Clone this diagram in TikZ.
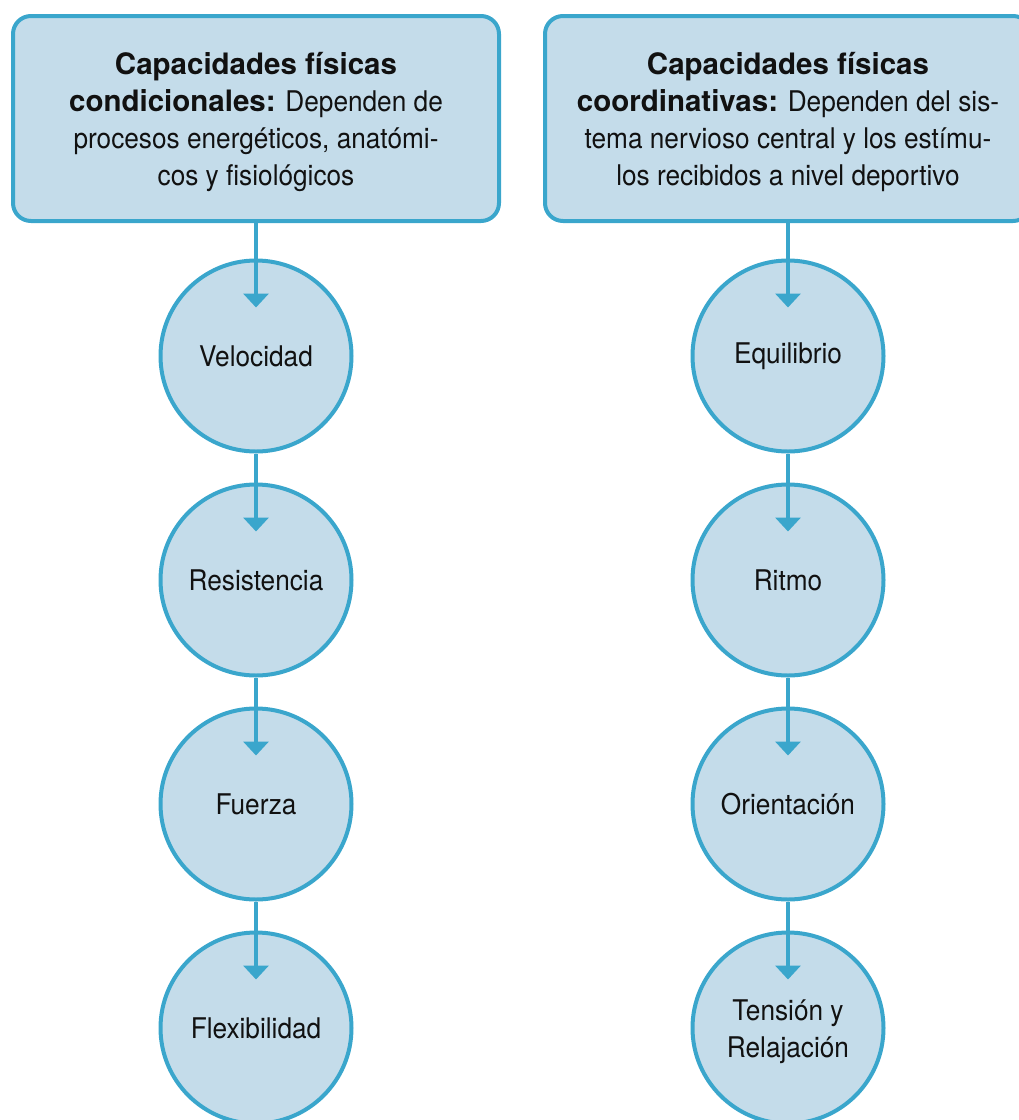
\documentclass[tikz,border=0pt]{standalone}
\usepackage{fontspec}
\setmainfont{TeX Gyre Heros}[FakeStretch=0.92]
\newfontfamily\boldfont{TeX Gyre Heros}
\usetikzlibrary{arrows.meta}
\definecolor{bfill}{RGB}{196,220,234}
\definecolor{bline}{RGB}{58,166,204}
\definecolor{ink}{RGB}{17,17,17}
\newcommand\hb[1]{{\boldfont\bfseries\fontsize{29.5}{37}\selectfont #1}}
\tikzset{
  headbox/.style={draw=bline, fill=bfill, line width=4pt, rounded corners=18pt,
    minimum width=486pt, minimum height=205pt, inner sep=0pt, align=center,
    text=ink, font=\fontsize{28.5}{37}\selectfont},
  circ/.style={circle, draw=bline, fill=bfill, line width=4pt, minimum size=191pt,
    inner sep=0pt, align=center, text=ink, font=\fontsize{28.5}{37}\selectfont},
  arr/.style={draw=bline, line width=4pt, -{Triangle[width=25pt,length=14pt]}}
}
\begin{document}
\begin{tikzpicture}[x=1pt,y=-1pt]
\useasboundingbox (0,0) rectangle (1019,1120);
\clip (0,0) rectangle (1019,1120);
% header boxes
\node[headbox] (L) at (256,118.5) {\rule{0pt}{30pt}\hb{Capacidades físicas}\\\hb{condicionales:} Dependen de\\procesos energéticos, anatómi-\\cos y fisiológicos};
\node[headbox] (R) at (788,118.5) {\rule{0pt}{30pt}\hb{Capacidades físicas}\\\hb{coordinativas:} Dependen del sis-\\tema nervioso central y los estímu-\\los recibidos a nivel deportivo};
% left column
\node[circ] (l1) at (256,356) {Velocidad};
\node[circ] (l2) at (256,580) {Resistencia};
\node[circ] (l3) at (256,804) {Fuerza};
\node[circ] (l4) at (256,1028) {Flexibilidad};
% right column
\node[circ] (r1) at (788,356) {Equilibrio};
\node[circ] (r2) at (788,580) {Ritmo};
\node[circ] (r3) at (788,804) {Orientación};
\node[circ] (r4) at (788,1028) {\rule{0pt}{28pt}Tensión y\\Relajación};
% arrows
\draw[arr] (L.south) -- ([yshift=-49pt]l1.north);
\draw[arr] (l1.south) -- ([yshift=-49pt]l2.north);
\draw[arr] (l2.south) -- ([yshift=-49pt]l3.north);
\draw[arr] (l3.south) -- ([yshift=-49pt]l4.north);
\draw[arr] (R.south) -- ([yshift=-49pt]r1.north);
\draw[arr] (r1.south) -- ([yshift=-49pt]r2.north);
\draw[arr] (r2.south) -- ([yshift=-49pt]r3.north);
\draw[arr] (r3.south) -- ([yshift=-49pt]r4.north);
\end{tikzpicture}
\end{document}
